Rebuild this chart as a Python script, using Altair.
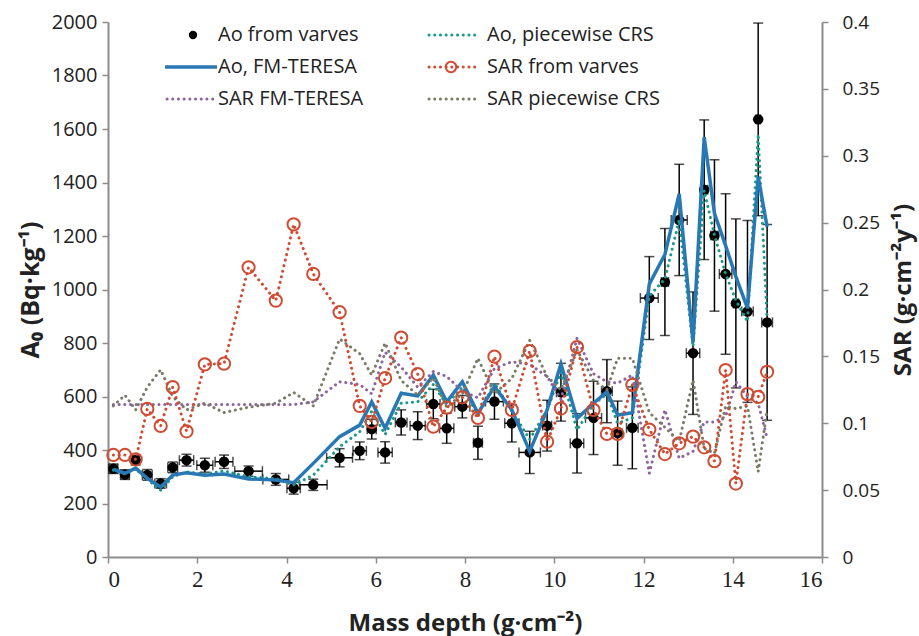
import altair as alt
import pandas as pd

# ---------------- data ----------------
depth = [0.12, 0.38, 0.62, 0.88, 1.18, 1.45, 1.76, 2.17, 2.6, 3.15, 3.76, 4.16, 4.6, 5.19,
         5.64, 5.91, 6.21, 6.57, 6.94, 7.29, 7.59, 7.94, 8.29, 8.66, 9.05, 9.45, 9.84, 10.15,
         10.51, 10.88, 11.18, 11.42, 11.75, 12.13, 12.48, 12.8, 13.11, 13.36, 13.59, 13.84,
         14.07, 14.33, 14.57, 14.77]
depth_err = [0.1, 0.1, 0.08, 0.11, 0.13, 0.11, 0.16, 0.18, 0.2, 0.31, 0.29, 0.15, 0.31, 0.29,
             0.15, 0.1, 0.16, 0.13, 0.17, 0.15, 0.16, 0.17, 0.1, 0.2, 0.16, 0.24, 0.1, 0.1,
             0.15, 0.18, 0.12, 0.1, 0.13, 0.2, 0.08, 0.18, 0.15, 0.08, 0.08, 0.14,
             0.06, 0.13, 0.05, 0.12]
ao_varves = [330, 308, 362, 307, 275, 335, 362, 343, 356, 321, 290, 257, 270, 371,
             397, 478, 391, 503, 491, 572, 481, 562, 427, 581, 500, 391, 491, 616,
             425, 520, 620, 463, 483, 968, 1028, 1260, 762, 1373, 1202, 1058,
             948, 918, 1636, 877]
ao_err = [18, 18, 18, 20, 18, 20, 22, 26, 25, 19, 22, 22, 21, 34,
          33, 37, 40, 47, 52, 55, 56, 42, 62, 66, 70, 79, 95, 108,
          111, 137, 118, 120, 153, 155, 200, 208, 229, 261, 283, 300,
          316, 340, 360, 366]
ao_teresa = [328, 313, 332, 294, 262, 306, 315, 306, 310, 292, 288, 278, 350, 450,
             493, 580, 481, 612, 602, 680, 580, 655, 537, 637, 550, 395, 550, 722,
             518, 575, 618, 531, 539, 1020, 1131, 1357, 802, 1569, 1285, 1164,
             1048, 930, 1421, 1234]
ao_crs = [325, 310, 330, 290, 250, 300, 318, 310, 322, 300, 293, 270, 306, 412,
          468, 545, 458, 575, 580, 645, 570, 635, 530, 650, 545, 440, 550, 690,
          475, 570, 610, 500, 520, 975, 1040, 1260, 786, 1370, 1204, 1058,
          960, 880, 1580, 886]
sar_varves = [0.0763, 0.0763, 0.073, 0.1107, 0.098, 0.127, 0.094, 0.144, 0.1445, 0.2166,
              0.1917, 0.2487, 0.2116, 0.183, 0.113, 0.101, 0.1338, 0.164, 0.1368, 0.0974,
              0.1117, 0.1194, 0.104, 0.1498, 0.11, 0.154, 0.0862, 0.111, 0.157, 0.11,
              0.092, 0.092, 0.1287, 0.0953, 0.077, 0.085, 0.09, 0.082, 0.0717, 0.1398,
              0.0549, 0.1218, 0.1197, 0.1385]
sar_teresa = [0.114, 0.114, 0.114, 0.114, 0.114, 0.114, 0.114, 0.114, 0.114, 0.114,
              0.114, 0.114, 0.116, 0.131, 0.129, 0.122, 0.153, 0.142, 0.127, 0.1386,
              0.135, 0.124, 0.119, 0.141, 0.146, 0.144, 0.135, 0.118, 0.1635, 0.137,
              0.131, 0.130, 0.136, 0.0626, 0.11, 0.0738, 0.079, 0.101, 0.101, 0.105,
              0.131, 0.12, 0.115, 0.0887]
sar_crs = [0.113, 0.121, 0.110, 0.127, 0.140, 0.120, 0.110, 0.115, 0.108, 0.112,
           0.115, 0.123, 0.113, 0.163, 0.152, 0.136, 0.160, 0.132, 0.121, 0.134,
           0.112, 0.122, 0.1486, 0.122, 0.1336, 0.162, 0.135, 0.125, 0.155, 0.132,
           0.125, 0.1486, 0.1486, 0.108, 0.097, 0.0865, 0.1323, 0.0813, 0.0775, 0.1128,
           0.111, 0.1128, 0.0638, 0.11]

x_ticks = [0, 2, 4, 6, 8, 10, 12, 14, 16]
left_ticks = [0, 200, 400, 600, 800, 1000, 1200, 1400, 1600, 1800, 2000]
right_ticks = [0, 0.05, 0.1, 0.15, 0.2, 0.25, 0.3, 0.35, 0.4]

legend_labels = ["Ao from varves", "Ao, piecewise CRS", "Ao, FM-TERESA",
                 "SAR from varves", "SAR FM-TERESA", "SAR piecewise CRS"]

# ---------------- styling ----------------
BLUE = "#2878b4"
TEAL = "#1b9a88"
RED = "#d04b32"
PURPLE = "#8c64a0"
GREY = "#7a7a68"
AXIS_GREY = "#8c8c8c"
TXT = "#222222"
FONT = "Open Sans"
DOT = [0.1, 5.6]

df = pd.DataFrame(dict(depth=depth, dx=depth_err, ao=ao_varves, ae=ao_err,
                       ao_t=ao_teresa, ao_c=ao_crs, sar_v=sar_varves,
                       sar_t=sar_teresa, sar_c=sar_crs))
df["ao_lo"] = df["ao"] - df["ae"]
df["ao_hi"] = (df["ao"] + df["ae"]).clip(upper=2000)
df["d_lo"] = df["depth"] - df["dx"]
df["d_hi"] = df["depth"] + df["dx"]

xscale = alt.Scale(domain=[0, 16], nice=False, zero=False)
lscale = alt.Scale(domain=[0, 2000], nice=False)
rscale = alt.Scale(domain=[0, 0.4], nice=False)

x_axis = alt.Axis(values=x_ticks, title="Mass depth (g·cm⁻²)", grid=False,
                  domainColor=AXIS_GREY, domainWidth=2, tickColor=AXIS_GREY,
                  tickWidth=1.5, tickSize=6, labelFont="Liberation Sans Narrow",
                  labelFontSize=23, labelColor=TXT, labelPadding=5,
                  titleFont=FONT, titleFontSize=24, titleFontWeight="bold",
                  titleColor=TXT, titlePadding=20)
l_axis = alt.Axis(values=left_ticks, format="d", title="A₀ (Bq·kg⁻¹)", orient="left",
                  grid=False, domainColor=AXIS_GREY, domainWidth=2, tickColor=AXIS_GREY,
                  tickWidth=1.5, tickSize=6, labelFont=FONT, labelFontSize=20,
                  labelColor=TXT, labelPadding=5, titleFont=FONT, titleFontSize=25,
                  titleFontWeight="bold", titleColor=TXT, titlePadding=8)
r_axis = alt.Axis(values=right_ticks, format="~g", title="SAR (g·cm⁻²y⁻¹)", orient="right",
                  grid=False, domainColor=AXIS_GREY, domainWidth=2, tickColor=AXIS_GREY,
                  tickWidth=1.5, tickSize=6, labelFont=FONT, labelFontSize=19,
                  labelColor=TXT, labelPadding=14, titleFont=FONT, titleFontSize=24,
                  titleFontWeight="bold", titleColor=TXT, titlePadding=36, titleAngle=270)

base = alt.Chart(df)

def X(field):
    return alt.X(f"{field}:Q", scale=xscale, axis=x_axis)

def YL(field):
    return alt.Y(f"{field}:Q", scale=lscale, axis=l_axis)

def YR(field):
    return alt.Y(f"{field}:Q", scale=rscale, axis=r_axis)

# error bars
err_v = base.mark_rule(color="black", strokeWidth=1.5).encode(
    x=X("depth"), y=YL("ao_lo"), y2="ao_hi")
cap_lo = base.mark_tick(color="black", orient="horizontal", size=10, thickness=1.5).encode(
    x=X("depth"), y=YL("ao_lo"))
cap_hi = base.mark_tick(color="black", orient="horizontal", size=10, thickness=1.5).encode(
    x=X("depth"), y=YL("ao_hi"))
err_h = base.mark_rule(color="black", strokeWidth=1.5).encode(
    x=X("d_lo"), x2="d_hi", y=YL("ao"))
cap_l = base.mark_tick(color="black", orient="vertical", size=10, thickness=1.5).encode(
    x=X("d_lo"), y=YL("ao"))
cap_r = base.mark_tick(color="black", orient="vertical", size=10, thickness=1.5).encode(
    x=X("d_hi"), y=YL("ao"))

teal = base.mark_line(color=TEAL, strokeWidth=3, strokeDash=DOT, strokeCap="round").encode(
    x=X("depth"), y=YL("ao_c"))
blue = base.mark_line(color=BLUE, strokeWidth=3.5).encode(
    x=X("depth"), y=YL("ao_t"))
pts = base.mark_point(filled=True, color="black", size=110, opacity=1).encode(
    x=X("depth"), y=YL("ao"))

left = alt.layer(err_v, cap_lo, cap_hi, err_h, cap_l, cap_r, pts, teal, blue)

purple = base.mark_line(color=PURPLE, strokeWidth=3, strokeDash=DOT, strokeCap="round").encode(
    x=X("depth"), y=YR("sar_t"))
grey = base.mark_line(color=GREY, strokeWidth=3, strokeDash=DOT, strokeCap="round").encode(
    x=X("depth"), y=YR("sar_c"))
red_line = base.mark_line(color=RED, strokeWidth=3, strokeDash=DOT, strokeCap="round").encode(
    x=X("depth"), y=YR("sar_v"))
red_pts = base.mark_point(filled=False, color=RED, strokeWidth=2, size=150, opacity=1).encode(
    x=X("depth"), y=YR("sar_v"))

right = alt.layer(purple, grey, red_line, red_pts)

# ---------------- legend (manual, two columns) ----------------
col_x = [57, 319]          # symbol start (px in plot area)
sym_w = 52
row_y = [13, 45, 77]
text_x = [110, 379]
styles = ["dot", "teal", "blue", "red", "purple", "grey"]
legend_layers = []
for i, (lab, st) in enumerate(zip(legend_labels, styles)):
    c, r = i % 2, i // 2
    ld = pd.DataFrame({"label": [lab]})
    lb = alt.Chart(ld)
    x0, yy = col_x[c], row_y[r]
    if st == "dot":
        legend_layers.append(lb.mark_point(filled=True, color="black", size=70, opacity=1).encode(
            x=alt.value(x0 + 28), y=alt.value(yy)))
    elif st == "blue":
        legend_layers.append(lb.mark_rule(color=BLUE, strokeWidth=3.5).encode(
            x=alt.value(x0), x2=alt.value(x0 + sym_w), y=alt.value(yy)))
    else:
        colr = {"teal": TEAL, "red": RED, "purple": PURPLE, "grey": GREY}[st]
        legend_layers.append(lb.mark_rule(color=colr, strokeWidth=3, strokeDash=DOT,
                                          strokeCap="round").encode(
            x=alt.value(x0 + 2), x2=alt.value(x0 + sym_w), y=alt.value(yy)))
        if st == "red":
            legend_layers.append(lb.mark_point(filled=False, color=RED, strokeWidth=2,
                                               size=110, opacity=1).encode(
                x=alt.value(x0 + 24), y=alt.value(yy)))
    legend_layers.append(lb.mark_text(align="left", baseline="middle", font=FONT,
                                      fontSize=20, color=TXT).encode(
        x=alt.value(text_x[c]), y=alt.value(yy), text="label:N"))

chart = alt.layer(left, right, *legend_layers).resolve_scale(y="independent").properties(
    width=714, height=535,
    autosize=alt.AutoSizeParams(type="none"),
    padding={"left": 108, "top": 22, "right": 97, "bottom": 79},
).configure_view(stroke=None)

chart.save("out.html", embed_options={"renderer": "svg", "actions": False})
